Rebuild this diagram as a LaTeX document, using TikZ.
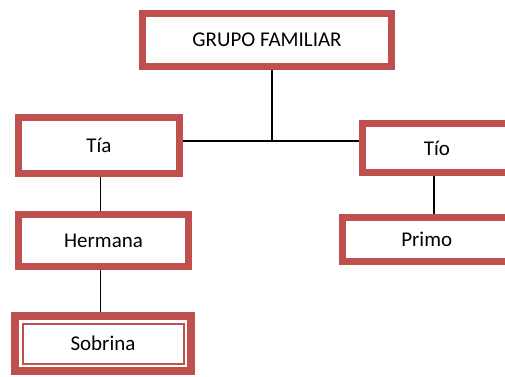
\documentclass[tikz,border=0pt]{standalone}
\usepackage{fontspec}
\setmainfont{Carlito}
\definecolor{boxred}{HTML}{C0504D}
\pgfdeclarelayer{bg}
\pgfsetlayers{bg,main}
\begin{document}
\begin{tikzpicture}[x=1pt,y=1pt,
  famnode/.style={draw=boxred, line width=7pt, fill=white, inner sep=0pt,
    font=\fontsize{21}{25}\selectfont, text=black},
  openbox/.style={draw=boxred, line width=7pt, line join=miter},
  lbl/.style={inner sep=0pt, font=\fontsize{21}{25}\selectfont, text=black},
  conn/.style={draw=black, line width=1.3pt}]
\useasboundingbox (0,0) rectangle (505,-376);
% boxes cut by the right edge of the picture
\draw[openbox] (505,-123.5) -- (362.5,-123.5) coordinate (tioTL) -- (362.5,-172.5) coordinate (tioBL) -- (505,-172.5);
\node[lbl] (tiotext) at (437,-148) {Tío};
\draw[openbox] (505,-217.5) -- (342.5,-217.5) coordinate (primoTL) -- (342.5,-261.5) -- (505,-261.5);
\node[lbl] (primotext) at (426.7,-239.5) {Primo};
% full boxes
\node[famnode, minimum width=249, minimum height=53] (grupo) at (267,-40) {GRUPO FAMILIAR};
\node[famnode, minimum width=161, minimum height=56] (tia) at (99,-145.5) {Tía};
\node[famnode, minimum width=170, minimum height=52] (herm) at (103.5,-240.5) {Hermana};
\node[famnode, line width=8pt, minimum width=176, minimum height=55] (sob) at (103,-343.5) {Sobrina};
\draw[boxred, line width=2pt] ([shift={(11.5,-11.5)}]sob.north west) rectangle ([shift={(-11.5,11.5)}]sob.south east);
% connectors
\coordinate (j) at (272,-141);
\coordinate (tioc) at (434,0);
\begin{pgfonlayer}{bg}
\draw[conn] (grupo.south -| j) -- (j);
\draw[conn] (tia.east |- j) -- (tioTL |- j);
\draw[conn] (tia.south -| 100.7,0) -- (herm.north -| 100.7,0);
\draw[conn] (herm.south -| 100.7,0) -- (sob.north -| 100.7,0);
\draw[conn] (tioBL -| tioc) -- (primoTL -| tioc);
\end{pgfonlayer}
\end{tikzpicture}
\end{document}
